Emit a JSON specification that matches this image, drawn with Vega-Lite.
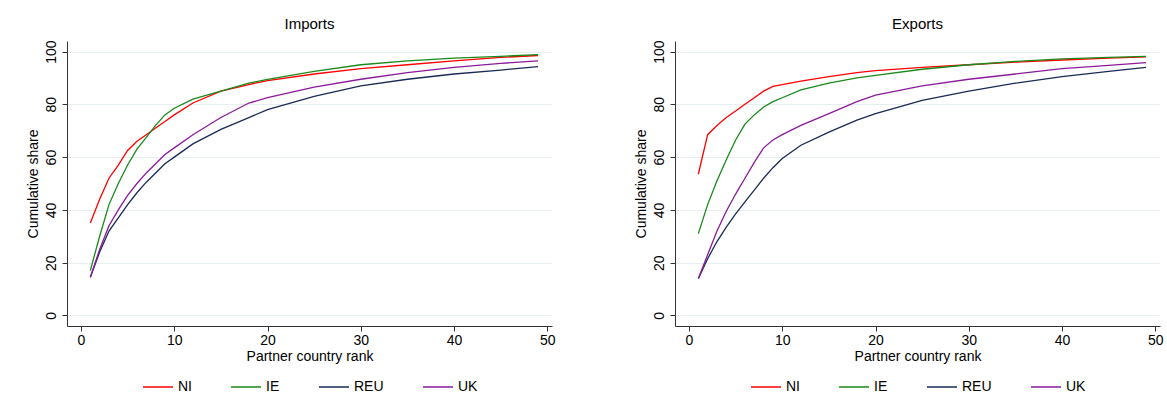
{
  "$schema": "https://vega.github.io/schema/vega-lite/v6.json",
  "background": "white",
  "padding": {"left": 26, "top": 16, "right": 0, "bottom": 5},
  "config": {
    "font": "Liberation Sans",
    "view": {"stroke": null},
    "title": {"fontSize": 15, "fontWeight": "normal", "color": "black", "offset": 8},
    "axis": {"labelFontSize": 14, "titleFontSize": 14, "titleFontWeight": "normal", "labelColor": "black", "titleColor": "black", "domainColor": "#333", "tickColor": "#333", "gridColor": "#e6eff1", "tickSize": 5},
    "legend": {"orient": "bottom", "direction": "horizontal", "symbolType": "stroke", "symbolSize": 900, "symbolStrokeWidth": 1.5, "labelFontSize": 14, "columnPadding": 36, "title": null, "labelColor": "black", "offset": 8, "layout": {"bottom": {"anchor": "middle"}}}
  },
  "datasets": {
    "imports": [
      {"rank": 1, "NI": 35, "IE": 17, "REU": 14.5, "UK": 14.5},
      {"rank": 2, "NI": 44, "IE": 30, "REU": 24, "UK": 25},
      {"rank": 3, "NI": 52, "IE": 42, "REU": 32, "UK": 34},
      {"rank": 4, "NI": 57, "IE": 50, "REU": 37, "UK": 40},
      {"rank": 5, "NI": 62.5, "IE": 57, "REU": 42, "UK": 45.5},
      {"rank": 6, "NI": 66, "IE": 63, "REU": 46.5, "UK": 50},
      {"rank": 7, "NI": 68.5, "IE": 67.5, "REU": 50.5, "UK": 54},
      {"rank": 8, "NI": 71, "IE": 72, "REU": 54, "UK": 57.5},
      {"rank": 9, "NI": 73.5, "IE": 76, "REU": 57.5, "UK": 61},
      {"rank": 10, "NI": 76, "IE": 78.5, "REU": 60, "UK": 63.5},
      {"rank": 12, "NI": 80.5, "IE": 82, "REU": 65, "UK": 68.5},
      {"rank": 15, "NI": 85, "IE": 85, "REU": 70.5, "UK": 75},
      {"rank": 18, "NI": 87.5, "IE": 88, "REU": 75, "UK": 80.5},
      {"rank": 20, "NI": 89, "IE": 89.5, "REU": 78, "UK": 82.5},
      {"rank": 25, "NI": 91.5, "IE": 92.5, "REU": 83, "UK": 86.5},
      {"rank": 30, "NI": 93.5, "IE": 95, "REU": 87, "UK": 89.5},
      {"rank": 35, "NI": 95, "IE": 96.5, "REU": 89.5, "UK": 92},
      {"rank": 40, "NI": 96.5, "IE": 97.5, "REU": 91.5, "UK": 94},
      {"rank": 45, "NI": 97.8, "IE": 98.2, "REU": 93, "UK": 95.5},
      {"rank": 49, "NI": 98.5, "IE": 98.8, "REU": 94.3, "UK": 96.5}
    ],
    "exports": [
      {"rank": 1, "NI": 53.5, "IE": 31, "REU": 14, "UK": 14},
      {"rank": 2, "NI": 68.5, "IE": 42, "REU": 21.5, "UK": 23},
      {"rank": 3, "NI": 72, "IE": 51, "REU": 28, "UK": 32},
      {"rank": 4, "NI": 75, "IE": 59, "REU": 33.5, "UK": 39.5},
      {"rank": 5, "NI": 77.5, "IE": 66.5, "REU": 38.5, "UK": 46},
      {"rank": 6, "NI": 80, "IE": 72.5, "REU": 43, "UK": 52},
      {"rank": 7, "NI": 82.5, "IE": 76, "REU": 47.5, "UK": 58},
      {"rank": 8, "NI": 85, "IE": 79, "REU": 52, "UK": 63.5},
      {"rank": 9, "NI": 86.8, "IE": 81, "REU": 56, "UK": 66.5},
      {"rank": 10, "NI": 87.5, "IE": 82.5, "REU": 59.5, "UK": 68.5},
      {"rank": 12, "NI": 88.8, "IE": 85.5, "REU": 64.5, "UK": 72},
      {"rank": 15, "NI": 90.5, "IE": 88, "REU": 69.5, "UK": 76.5},
      {"rank": 18, "NI": 92, "IE": 90, "REU": 74, "UK": 81},
      {"rank": 20, "NI": 92.8, "IE": 91, "REU": 76.5, "UK": 83.5},
      {"rank": 25, "NI": 94, "IE": 93.3, "REU": 81.5, "UK": 87},
      {"rank": 30, "NI": 95, "IE": 95, "REU": 85, "UK": 89.5},
      {"rank": 35, "NI": 96, "IE": 96.3, "REU": 88, "UK": 91.5},
      {"rank": 40, "NI": 96.8, "IE": 97.2, "REU": 90.5, "UK": 93.5},
      {"rank": 45, "NI": 97.5, "IE": 97.8, "REU": 92.5, "UK": 94.8},
      {"rank": 49, "NI": 98, "IE": 98.2, "REU": 94, "UK": 95.8}
    ]
  },
  "resolve": {"scale": {"color": "independent"}},
  "spacing": 78,
  "hconcat": [
    {
      "title": "Imports",
      "width": 485,
      "height": 285,
      "data": {"name": "imports"},
      "transform": [{"fold": ["NI", "IE", "REU", "UK"], "as": ["series", "share"]}],
      "mark": {"type": "line", "strokeWidth": 1.3},
      "encoding": {
        "x": {"field": "rank", "type": "quantitative", "title": "Partner country rank", "scale": {"domain": [-1.5, 50.5], "nice": false}, "axis": {"values": [0, 10, 20, 30, 40, 50], "grid": false, "titlePadding": 2}},
        "y": {"field": "share", "type": "quantitative", "title": "Cumulative share", "scale": {"domain": [-4, 104], "nice": false}, "axis": {"values": [0, 20, 40, 60, 80, 100], "labelAngle": -90, "labelAlign": "center", "labelBaseline": "bottom", "labelPadding": 4, "titlePadding": 4}},
        "color": {"field": "series", "type": "nominal", "sort": ["NI", "IE", "REU", "UK"], "scale": {"domain": ["NI", "IE", "REU", "UK"], "range": ["#ff0000", "#1a8a1a", "#1a2a57", "#8b1a9b"]}}
      }
    },
    {
      "title": "Exports",
      "width": 485,
      "height": 285,
      "data": {"name": "exports"},
      "transform": [{"fold": ["NI", "IE", "REU", "UK"], "as": ["series", "share"]}],
      "mark": {"type": "line", "strokeWidth": 1.3},
      "encoding": {
        "x": {"field": "rank", "type": "quantitative", "title": "Partner country rank", "scale": {"domain": [-1.5, 50.5], "nice": false}, "axis": {"values": [0, 10, 20, 30, 40, 50], "grid": false, "titlePadding": 2}},
        "y": {"field": "share", "type": "quantitative", "title": "Cumulative share", "scale": {"domain": [-4, 104], "nice": false}, "axis": {"values": [0, 20, 40, 60, 80, 100], "labelAngle": -90, "labelAlign": "center", "labelBaseline": "bottom", "labelPadding": 4, "titlePadding": 4}},
        "color": {"field": "series", "type": "nominal", "sort": ["NI", "IE", "REU", "UK"], "scale": {"domain": ["NI", "IE", "REU", "UK"], "range": ["#ff0000", "#1a8a1a", "#1a2a57", "#8b1a9b"]}}
      }
    }
  ]
}
